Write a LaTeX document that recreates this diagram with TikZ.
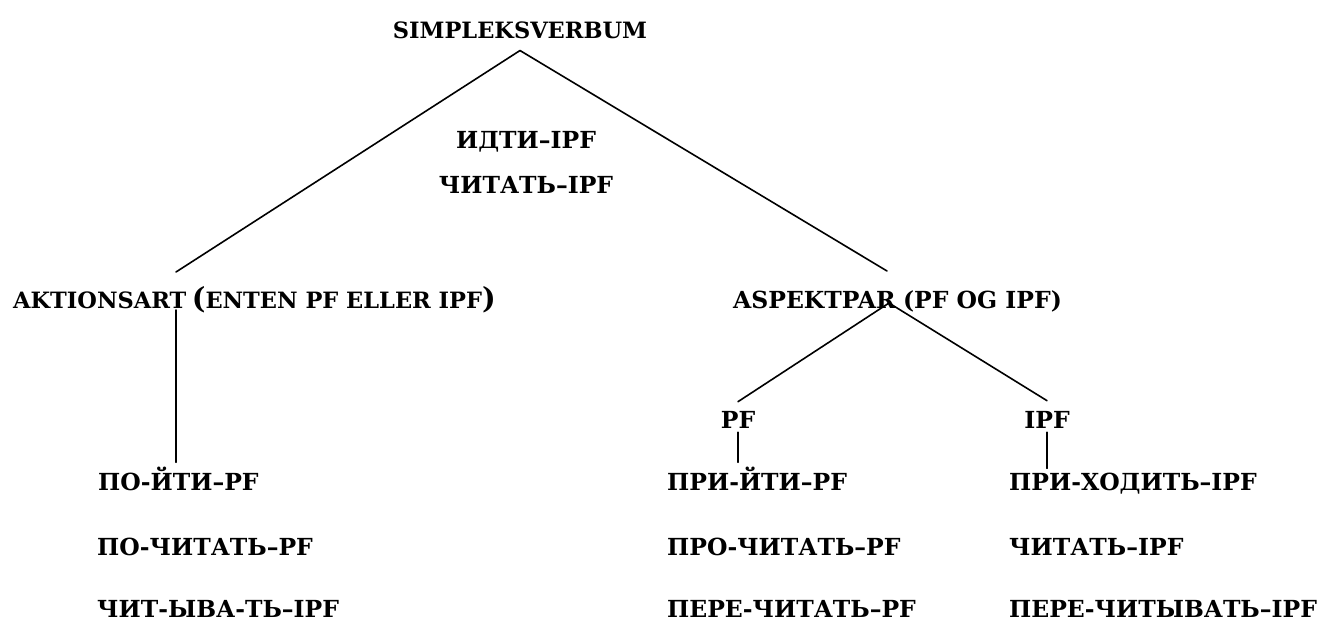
\documentclass[tikz,border=0pt]{standalone}
\usepackage{fontspec}
\setmainfont{DejaVu Serif}
\usetikzlibrary{positioning,calc}
\tikzset{
  word/.style={font=\fontsize{23.5}{28}\selectfont\bfseries, inner xsep=0pt, inner ysep=4pt, anchor=base west},
  latin/.style={word, font=\fontsize{22.5}{28}\selectfont\bfseries},
  branch/.style={line width=1.6pt}
}
\begin{document}
\begin{tikzpicture}[line cap=round,line join=round,x=1pt,y=-1pt]
\useasboundingbox (0,0) rectangle (1320,622);
% top of the tree
\node[latin,anchor=base,inner ysep=12pt] (root) at (520,38) {SIMPLEKSVERBUM};
\node[word,anchor=base] (idti) at (526,148) {ИДТИ–IPF};
\node[word,anchor=base] (chitat) at (526,193) {ЧИТАТЬ–IPF};
% two branches
\node[latin] (akt) at (13,308) {AKTIONSART};
\node[latin,base right=5pt of akt] (aktrest) {{\fontsize{29}{29}\selectfont(}ENTEN PF ELLER IPF{\fontsize{29}{29}\selectfont)}};
\node[word] (asp) at (733,308) {ASPEKTPAR};
\node[word,base right=7pt of asp] (asprest) {(PF OG IPF)};
\node[word,anchor=base] (pf) at (738,428) {PF};
\node[word,anchor=base] (ipf) at (1047,428) {IPF};
% leaves
\node[word] (pojti) at (98,490) {ПО-ЙТИ–PF};
\node[word] (pochitat) at (97,555) {ПО-ЧИТАТЬ–PF};
\node[word] (chityvat) at (97,617) {ЧИТ-ЫВА-ТЬ–IPF};
\node[word] (prijti) at (667,490) {ПРИ-ЙТИ–PF};
\node[word] (prochitat) at (667,555) {ПРО-ЧИТАТЬ–PF};
\node[word] (perechitat) at (667,617) {ПЕРЕ-ЧИТАТЬ–PF};
\node[word] (prihodit) at (1009,490) {ПРИ-ХОДИТЬ–IPF};
\node[word] (chitat2) at (1009,555) {ЧИТАТЬ–IPF};
\node[word] (perechityvat) at (1009,617) {ПЕРЕ-ЧИТЫВАТЬ–IPF};
% connectors
\coordinate (akttop) at (176,272);
\coordinate (aktbot) at (176,310);
\coordinate (asptop) at (887,271);
\coordinate (aspbot) at (889,303);
\draw[branch] (root.south) -- (akttop);
\draw[branch] (root.south) -- (asptop);
\draw[branch] (aktbot) -- (aktbot |- pojti.north);
\draw[branch] (aspbot) -- ([yshift=5pt]pf.north);
\draw[branch] (aspbot) -- ([yshift=6pt]ipf.north);
\draw[branch] (pf.south) -- (pf.south |- prijti.north);
\draw[branch] (ipf.south) -- (ipf.south |- prihodit.north);
\end{tikzpicture}
\end{document}
